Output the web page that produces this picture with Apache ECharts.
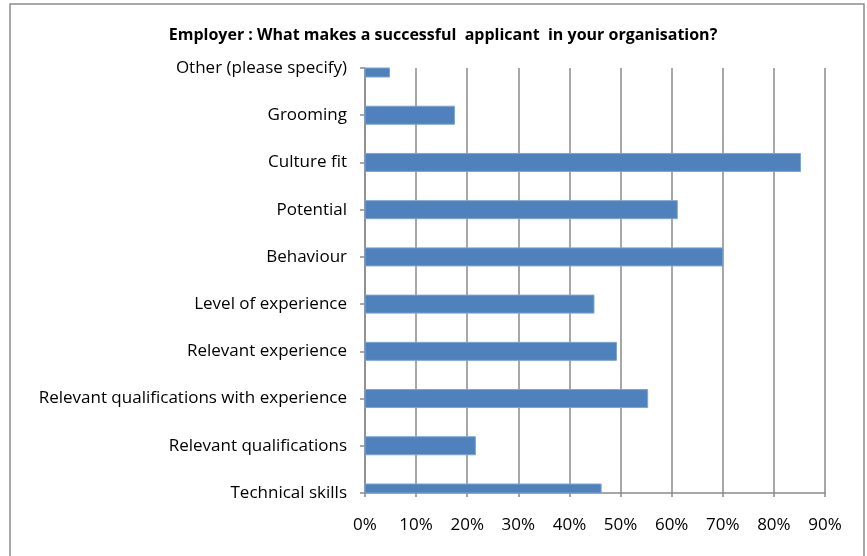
<!DOCTYPE html>
<html>
<head>
<meta charset="utf-8">
<script src="https://cdn.jsdelivr.net/npm/echarts@6/dist/echarts.min.js"></script>
<style>
  html, body { margin: 0; padding: 0; background: #fff; }
  #chart { width: 867px; height: 556px; }
</style>
</head>
<body>
<div id="chart"></div>
<script>
// Survey answers, listed from the top row of the chart downwards
const categories = [
  'Other (please specify)',
  'Grooming',
  'Culture fit',
  'Potential',
  'Behaviour',
  'Level of experience',
  'Relevant experience',
  'Relevant qualifications with experience',
  'Relevant qualifications',
  'Technical skills'
];
// Share of employers choosing each answer (fraction of 1)
const shares = [0.048, 0.175, 0.852, 0.611, 0.700, 0.448, 0.492, 0.553, 0.216, 0.462];
const tickLabels = ['0%', '10%', '20%', '30%', '40%', '50%', '60%', '70%', '80%', '90%'];
const chartTitle = 'Employer : What makes a successful  applicant  in your organisation?';

const FONT = '"Open Sans", Lato, sans-serif';
const GRID_GRAY = '#8a8a8a';
const BAR_PX = 18;

const chart = echarts.init(document.getElementById('chart'), null, { renderer: 'canvas' });

// Horizontal bars drawn from the axes' own scales; the end rows sit on the
// plot edges, so each bar is clipped to the plotting area.
function renderBar(params, api) {
  const idx = api.value(1);
  const start = api.coord([0, idx]);
  const end = api.coord([api.value(0), idx]);
  const rect = echarts.graphic.clipRectByRect(
    { x: start[0], y: start[1] - BAR_PX / 2, width: end[0] - start[0], height: BAR_PX },
    { x: params.coordSys.x, y: params.coordSys.y, width: params.coordSys.width, height: params.coordSys.height }
  );
  if (!rect) return null;
  return {
    type: 'rect',
    shape: rect,
    style: { fill: '#4f81bd', stroke: '#7ea3d1', lineWidth: 1 }
  };
}

chart.setOption({
  animation: false,
  backgroundColor: '#ffffff',
  title: {
    text: chartTitle,
    left: 438,
    textAlign: 'center',
    top: 22,
    textStyle: { fontFamily: FONT, fontSize: 16, fontWeight: 'bold', color: '#000' }
  },
  graphic: [{
    type: 'rect',
    shape: { x: 10, y: 4, width: 854, height: 600 },
    style: { fill: 'none', stroke: '#8c8c8c', lineWidth: 1.5 },
    silent: true,
    z: -1
  }],
  grid: { left: 365, right: 42, top: 68, bottom: 63, containLabel: false },
  xAxis: {
    type: 'value',
    min: 0,
    max: 0.9,
    interval: 0.1,
    axisLine: { show: true, lineStyle: { color: GRID_GRAY, width: 1.5 } },
    axisTick: { show: true, length: 4, lineStyle: { color: GRID_GRAY, width: 1.5 } },
    splitLine: { show: true, lineStyle: { color: GRID_GRAY, width: 1.5 } },
    axisLabel: {
      margin: 24,
      color: '#000',
      fontFamily: FONT,
      fontSize: 17,
      formatter: function (v) { return tickLabels[Math.round(v * 10)]; }
    }
  },
  yAxis: {
    type: 'category',
    data: categories,
    inverse: true,
    boundaryGap: false,
    axisLine: { show: true, lineStyle: { color: GRID_GRAY, width: 1.5 } },
    axisTick: { show: true, length: 5, lineStyle: { color: GRID_GRAY, width: 1.5 } },
    splitLine: { show: false },
    axisLabel: {
      margin: 18,
      padding: [6, 0, 0, 0],
      color: '#000',
      fontFamily: FONT,
      fontSize: 17
    }
  },
  series: [{
    type: 'custom',
    renderItem: renderBar,
    encode: { x: 0, y: 1 },
    data: shares.map(function (v, i) { return [v, i]; }),
    z: 3
  }]
});
</script>
</body>
</html>
